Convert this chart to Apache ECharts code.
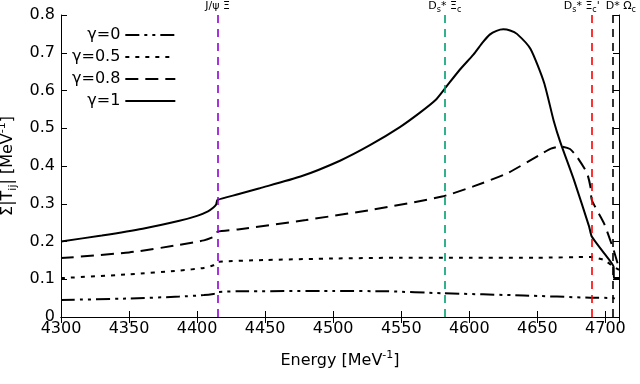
<!DOCTYPE html>
<html>
<head>
<meta charset="utf-8">
<script src="https://cdn.jsdelivr.net/npm/echarts@6/dist/echarts.min.js"></script>
<style>
  html, body { margin: 0; padding: 0; background: #fff; }
  #chart { width: 640px; height: 384px; }
</style>
</head>
<body>
<div id="chart"></div>
<script>
// ---------------------------------------------------
// Datos
// ---------------------------------------------------
const names = ['γ=0', 'γ=0.5', 'γ=0.8', 'γ=1'];

const energy0 = [4300, 4350, 4387, 4405, 4412, 4414, 4415, 4430, 4500, 4540, 4580, 4640, 4689, 4706, 4710];
const sum0 = [0.045, 0.049, 0.054, 0.058, 0.061, 0.063, 0.066, 0.068, 0.069, 0.068, 0.063, 0.057, 0.051, 0.050, 0.043];

const energy05 = [4300, 4350, 4387, 4405, 4412, 4414, 4415, 4450, 4500, 4550, 4600, 4650, 4689, 4699, 4706, 4710];
const sum05 = [0.103, 0.113, 0.123, 0.130, 0.137, 0.141, 0.146, 0.151, 0.155, 0.157, 0.157, 0.157, 0.159, 0.151, 0.133, 0.125];

const energy08 = [4300, 4350, 4387, 4405, 4412, 4414, 4415, 4430, 4480, 4530, 4580, 4603, 4628, 4652, 4660, 4667, 4674, 4679, 4686.5, 4689, 4690, 4699, 4706, 4710];
const sum08 = [0.156, 0.171, 0.191, 0.203, 0.212, 0.218, 0.226, 0.232, 0.257, 0.285, 0.319, 0.346, 0.381, 0.430, 0.446, 0.452, 0.445, 0.425, 0.381, 0.345, 0.310, 0.248, 0.178, 0.129];

const energy1 = [4300, 4330, 4360, 4387, 4400, 4408, 4412, 4414, 4415, 4430, 4446, 4476, 4505, 4527, 4549, 4564, 4575, 4582, 4593, 4603, 4610, 4615, 4620, 4625, 4630, 4635, 4645, 4655, 4662, 4667, 4677, 4688, 4690, 4699, 4706, 4706.3, 4710];
const sum1 = [0.200, 0.216, 0.234, 0.255, 0.268, 0.280, 0.290, 0.298, 0.310, 0.325, 0.341, 0.372, 0.414, 0.455, 0.503, 0.542, 0.574, 0.605, 0.655, 0.695, 0.728, 0.748, 0.758, 0.762, 0.759, 0.750, 0.710, 0.620, 0.520, 0.462, 0.362, 0.240, 0.213, 0.169, 0.133, 0.103, 0.103];

// umbrales
const thresholds = [4415, 4582, 4690, 4705.5];
const thresholdLabels = [
  '{n|J/ψ Ξ}',
  '{n|D}{sub|s}{n|* Ξ}{sub|c}',
  '{n|D}{sub|s}{n|* Ξ}{sub|c}{n|\'}',
  '{n|D* Ω}{sub|c}'
];
const thresholdColors = ['#9400d3', '#009e73', '#ff0000', '#000000'];
const labelShift = [0, 0, -20, 16];

const xTicks = { min: 4300, max: 4710, interval: 50 };
const yTicks = { min: 0, max: 0.8, interval: 0.1 };

const toPairs = (xs, ys) => xs.map((x, i) => [x, ys[i]]);

const FONT = 'DejaVu Sans';
const richText = {
  n: { fontSize: 11, fontFamily: FONT, color: '#000', lineHeight: 16, verticalAlign: 'middle' },
  sub: { fontSize: 8, fontFamily: FONT, color: '#000', lineHeight: 7, verticalAlign: 'bottom' },
  big: { fontSize: 16, fontFamily: FONT, color: '#000', lineHeight: 22, verticalAlign: 'middle' },
  bsub: { fontSize: 11, fontFamily: FONT, color: '#000', lineHeight: 10, verticalAlign: 'bottom' },
  bsup: { fontSize: 11, fontFamily: FONT, color: '#000', lineHeight: 10, verticalAlign: 'top' }
};

const markLineData = thresholds.map((x, i) => {
  const pad = labelShift[i] >= 0 ? [0, 0, 0, labelShift[i]] : [0, -labelShift[i], 0, 0];
  return {
    xAxis: x,
    lineStyle: { color: thresholdColors[i], type: [8, 6], width: 1.6 },
    label: {
      show: true,
      position: 'end',
      distance: 1,
      formatter: thresholdLabels[i],
      rich: richText,
      padding: pad
    }
  };
});

const axisStyle = { lineStyle: { color: '#000', width: 1 } };
const tickStyle = { show: true, inside: true, length: 6, lineStyle: { color: '#000', width: 1 } };

const lineStyles = [
  { color: '#000', width: 2, type: [14, 5, 3, 5, 3, 5] },
  { color: '#000', width: 2, type: [4, 6] },
  { color: '#000', width: 2, type: [13, 7] },
  { color: '#000', width: 2, type: 'solid' }
];
const dataSets = [
  toPairs(energy0, sum0),
  toPairs(energy05, sum05),
  toPairs(energy08, sum08),
  toPairs(energy1, sum1)
];

const series = names.map((name, i) => {
  const s = {
    name: name,
    type: 'line',
    data: dataSets[i],
    symbol: 'none',
    smooth: 0.2,
    lineStyle: lineStyles[i],
    itemStyle: { color: '#000' },
    z: 3
  };
  if (i === 3) {
    s.markLine = {
      silent: true,
      symbol: ['none', 'none'],
      animation: false,
      data: markLineData
    };
  }
  return s;
});

const chart = echarts.init(document.getElementById('chart'));

const option = {
  animation: false,
  backgroundColor: '#fff',
  textStyle: { fontFamily: FONT },
  grid: { left: 61, right: 21, top: 15, bottom: 67, containLabel: false, outerBoundsMode: 'none' },
  legend: {
    orient: 'vertical',
    left: 67,
    top: 22,
    align: 'right',
    itemWidth: 50,
    itemHeight: 14,
    itemGap: 6,
    itemStyle: { opacity: 0 },
    textStyle: { fontSize: 16, fontFamily: FONT, color: '#000' },
    data: names
  },
  xAxis: [
    {
      type: 'value',
      min: xTicks.min,
      max: xTicks.max,
      interval: xTicks.interval,
      position: 'bottom',
      axisLine: axisStyle,
      axisTick: tickStyle,
      splitLine: { show: false },
      axisLabel: {
        color: '#000', fontSize: 16, fontFamily: FONT, margin: 4, showMaxLabel: false,
        formatter: v => String(v)
      },
      name: '{big|Energy [MeV}{bsup|-1}{big|]}',
      nameLocation: 'middle',
      nameGap: 33,
      nameTextStyle: { rich: richText }
    },
    {
      type: 'value',
      min: xTicks.min,
      max: xTicks.max,
      interval: xTicks.interval,
      position: 'top',
      axisLine: axisStyle,
      axisTick: tickStyle,
      axisLabel: { show: false },
      splitLine: { show: false }
    }
  ],
  yAxis: [
    {
      type: 'value',
      min: yTicks.min,
      max: yTicks.max,
      interval: yTicks.interval,
      position: 'left',
      axisLine: { show: true, lineStyle: { color: '#000', width: 1 } },
      axisTick: tickStyle,
      splitLine: { show: false },
      axisLabel: { color: '#000', fontSize: 16, fontFamily: FONT, margin: 6 },
      name: '{big|Σ|T}{bsub|ij}{big|| [MeV}{bsup|-1}{big|]}',
      nameLocation: 'middle',
      nameGap: 32,
      nameTextStyle: { rich: richText }
    },
    {
      type: 'value',
      min: yTicks.min,
      max: yTicks.max,
      interval: yTicks.interval,
      position: 'right',
      axisLine: { show: true, lineStyle: { color: '#000', width: 1 } },
      axisTick: tickStyle,
      axisLabel: { show: false },
      splitLine: { show: false }
    }
  ],
  series: series
};

chart.setOption(option);
</script>
</body>
</html>
